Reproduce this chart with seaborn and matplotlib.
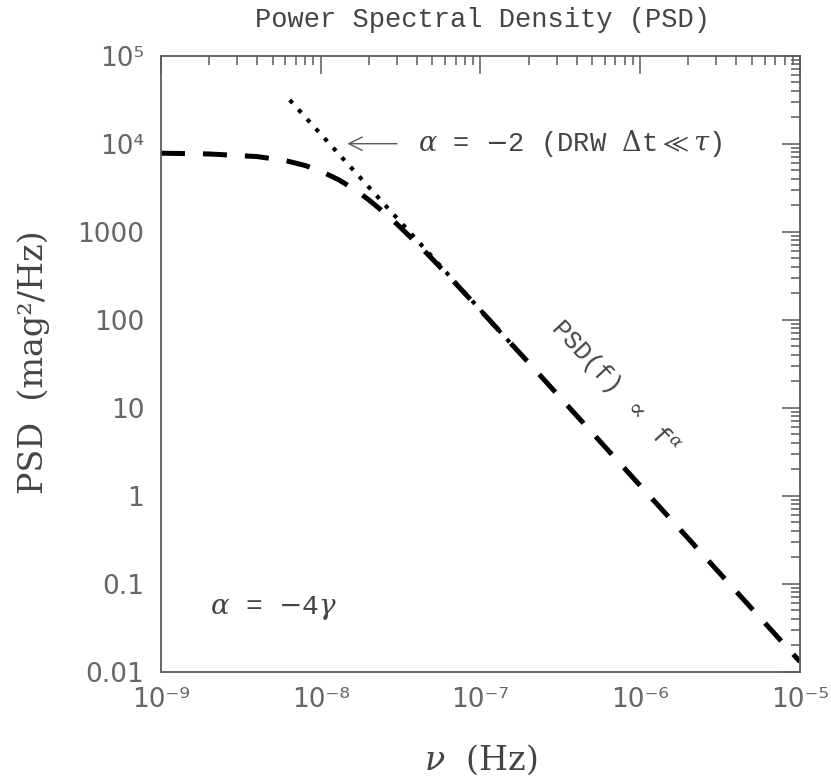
import numpy as np
import pandas as pd
import matplotlib
matplotlib.use("Agg")
import matplotlib.pyplot as plt
import seaborn as sns

# PSD curve (DRW shape, flattens below ~1e-8 Hz)
freq = [1e-9, 2e-9, 4e-9, 6e-9, 8e-9, 1e-8, 1.3e-8, 1.6e-8, 2e-8, 2.5e-8, 3e-8,
        4e-8, 5e-8, 7e-8, 1e-7, 2e-7, 5e-7, 1e-6, 2e-6, 5e-6, 1e-5]
psd = [7800, 7650, 7140, 6440, 5650, 4890, 3880, 3085, 2300, 1645, 1220,
       738, 489, 257, 128, 32.5, 5.2, 1.30, 0.326, 0.052, 0.013]

# alpha = -2 guide line (dotted)
freq_guide = [6.4e-9, 1e-8, 2e-8, 5e-8, 1e-7, 1.6e-7]
psd_guide = [31400, 12860, 3215, 514, 128.6, 50.2]

xtick_vals = [1e-9, 1e-8, 1e-7, 1e-6, 1e-5]
xtick_labels = ["10⁻⁹", "10⁻⁸", "10⁻⁷", "10⁻⁶", "10⁻⁵"]
ytick_vals = [0.01, 0.1, 1, 10, 100, 1000, 1e4, 1e5]
ytick_labels = ["0.01", "0.1", "1", "10", "100", "1000", "10⁴", "10⁵"]

sns.set_theme(style="white")
plt.rcParams["font.family"] = ["DejaVu Sans"]
plt.rcParams["mathtext.fontset"] = "dejavuserif"

grey = "#5a5a5a"
fig = plt.figure(figsize=(8.31, 7.78), dpi=100)
ax = fig.add_axes([0.1937, 0.1366, 0.7690, 0.7918])
ax.set_xscale("log")
ax.set_yscale("log")

df = pd.DataFrame({"freq": freq, "psd": psd})
dg = pd.DataFrame({"freq": freq_guide, "psd": psd_guide})
sns.lineplot(data=df, x="freq", y="psd", ax=ax, color="black", lw=3.6,
             dashes=(4.8, 3.6), errorbar=None, sort=False)
sns.lineplot(data=dg, x="freq", y="psd", ax=ax, color="black", lw=3.0,
             dashes=(1.0, 2.1), errorbar=None, sort=False)

ax.set_xlim(1e-9, 1e-5)
ax.set_ylim(0.01, 1e5)
ax.set_xlabel("")
ax.set_ylabel("")

ax.set_xticks(xtick_vals, labels=xtick_labels)
ax.set_yticks(ytick_vals, labels=ytick_labels)
ax.xaxis.set_minor_locator(matplotlib.ticker.LogLocator(base=10, subs=np.arange(2, 10), numticks=20))
ax.yaxis.set_minor_locator(matplotlib.ticker.LogLocator(base=10, subs=np.arange(2, 10), numticks=20))
ax.xaxis.set_minor_formatter(matplotlib.ticker.NullFormatter())
ax.yaxis.set_minor_formatter(matplotlib.ticker.NullFormatter())

ax.tick_params(which="both", direction="in", top=True, right=True, color=grey,
               width=1.1, labelsize=19, labelcolor="#666666")
ax.tick_params(which="major", length=13)
ax.tick_params(which="minor", length=6.5)
ax.tick_params(axis="x", pad=11)
ax.tick_params(axis="y", pad=12)
for s in ax.spines.values():
    s.set_color(grey)
    s.set_linewidth(1.3)

mono = ["Liberation Mono", "DejaVu Sans Mono"]
fig.text(0.581, 0.974, "Power Spectral Density (PSD)", family=mono, fontsize=19.5,
         color="#444444", ha="center", va="center")
fig.text(0.579, 0.023, r"$\nu$  (Hz)", family="DejaVu Serif", fontsize=24,
         color="#444444", ha="center", va="center")
fig.text(0.040, 0.535, "PSD  (mag²/Hz)", family="DejaVu Serif", fontsize=24,
         color="#444444", ha="center", va="center", rotation=90)

ax.annotate("", xy=(1.41e-8, 1e4), xytext=(3.12e-8, 1e4),
            arrowprops=dict(arrowstyle="->", color=grey, lw=1.0, mutation_scale=24))
ax.text(4.04e-8, 1e4, r"$\alpha$ = $-$2 (DRW $\Delta$t$\ll\tau$)", family=mono,
        fontsize=19.5, color="#444444", ha="left", va="center")
ax.text(2.02e-9, 0.053, r"$\alpha$ = $-$4$\gamma$", family=mono,
        fontsize=20, color="#444444", ha="left", va="center")
ax.text(6.9e-7, 17.2, r"PSD(f) $\propto$ f$^{\alpha}$", family=mono,
        fontsize=18, color="#444444", ha="center", va="center",
        rotation=-47, rotation_mode="anchor")

fig.savefig("out.png", dpi=100)
